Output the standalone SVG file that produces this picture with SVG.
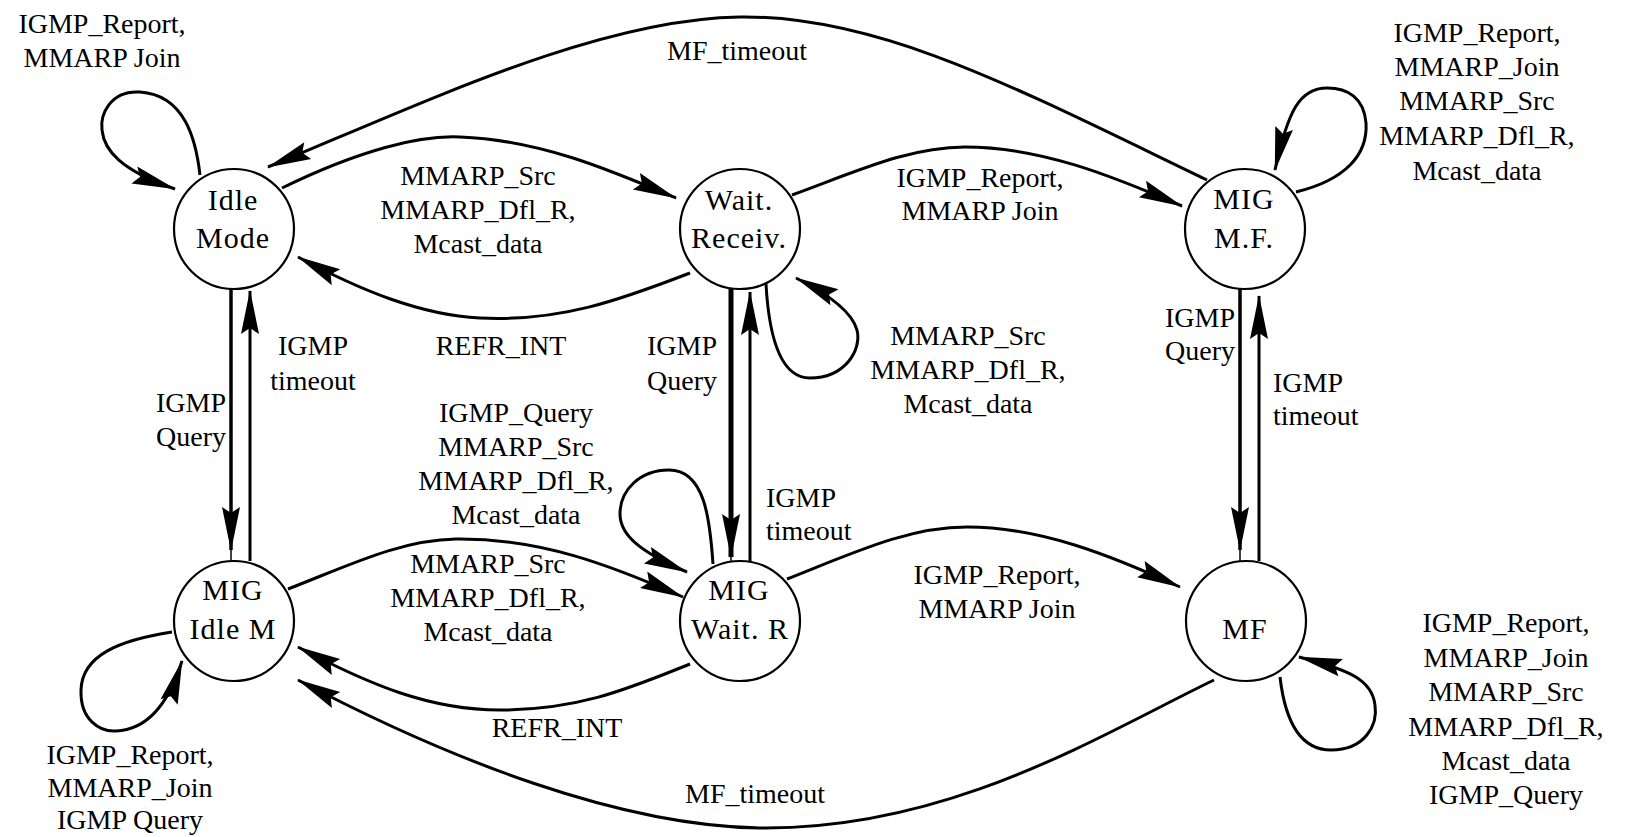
<svg xmlns="http://www.w3.org/2000/svg" width="1625" height="837" viewBox="0 0 1625 837">
  <style>
    .state { fill: #fff; stroke: #000; stroke-width: 2.2; }
    .name { font-family: "Liberation Serif", "Times New Roman", serif; font-size: 30px; letter-spacing: 1px; text-anchor: middle; fill: #000; }
    .edge { fill: none; stroke: #000; stroke-width: 3; }
    .stub { fill: none; stroke: #000; stroke-width: 1.5; }
    .lbl { font-family: "Liberation Serif", "Times New Roman", serif; font-size: 28px; text-anchor: middle; fill: #000; }
    .lbl.start { text-anchor: start; }
  </style>
  <defs>
    <!-- long, slightly notched dart used on every transition -->
    <marker id="arrow" markerUnits="userSpaceOnUse" viewBox="0 0 44 18" markerWidth="44" markerHeight="18" refX="43" refY="9" orient="auto" overflow="visible">
      <path d="M0,0 L44,9 L0,18 L6,9 Z" fill="#000"/>
    </marker>
  </defs>

  <rect width="1625" height="837" fill="#fff"/>

  <!-- transitions -->
  <g id="connectors">
    <!-- MF_timeout: MIG M.F. -> Idle Mode -->
    <path class="edge" d="M1207,180 C1020,90 880,15 740,17 C600,19 430,100 268,167" marker-end="url(#arrow)"/>
    <!-- Idle Mode -> Wait. Receiv. -->
    <path class="edge" d="M282,188 C360,150 420,135 460,137 C540,140 610,170 676,198" marker-end="url(#arrow)"/>
    <!-- REFR_INT: Wait. Receiv. -> Idle Mode -->
    <path class="edge" d="M690,273 C620,300 560,322 480,318 C420,315 360,290 298,257" marker-end="url(#arrow)"/>
    <!-- Wait. Receiv. -> MIG M.F. -->
    <path class="edge" d="M792,195 C860,170 910,147 965,147 C1040,147 1110,175 1182,206" marker-end="url(#arrow)"/>
    <!-- self loops -->
    <path class="edge" d="M200,175 C196,140 185,95 140,92 C110,90 100,115 102,130 C104,150 120,170 175,189" marker-end="url(#arrow)"/>
    <path class="edge" d="M766,284 C768,320 775,378 810,378 C845,378 862,350 857,330 C852,312 830,295 796,278" marker-end="url(#arrow)"/>
    <path class="edge" d="M1296,192 C1345,180 1368,155 1366,123 C1364,98 1348,88 1327,88 C1300,88 1288,110 1275,170" marker-end="url(#arrow)"/>
    <path class="edge" d="M172,632 C120,640 82,655 81,690 C80,720 100,732 116,731 C140,730 165,715 182,661" marker-end="url(#arrow)"/>
    <path class="edge" d="M713,564 C710,520 705,470 669,470 C640,470 620,490 620,514 C620,535 640,552 687,572" marker-end="url(#arrow)"/>
    <path class="edge" d="M1280,677 C1285,720 1300,750 1331,750 C1365,750 1378,725 1375,705 C1372,680 1350,670 1299,657" marker-end="url(#arrow)"/>
    <!-- MIG Idle M -> MIG Wait. R -->
    <path class="edge" d="M288,589 C350,565 400,540 456,539 C540,538 610,565 683,597" marker-end="url(#arrow)"/>
    <!-- REFR_INT: MIG Wait. R -> MIG Idle M -->
    <path class="edge" d="M690,664 C630,688 580,710 500,710 C430,710 370,685 298,647" marker-end="url(#arrow)"/>
    <!-- MIG Wait. R -> MF -->
    <path class="edge" d="M787,579 C860,550 910,527 967,527 C1040,527 1110,555 1180,587" marker-end="url(#arrow)"/>
    <!-- MF_timeout: MF -> MIG Idle M -->
    <path class="edge" d="M1214,680 C1100,735 950,830 760,828 C620,826 450,760 298,680" marker-end="url(#arrow)"/>

    <!-- IGMP Query (down) / IGMP timeout (up) pairs -->
    <path class="edge" style="stroke-width:3.5" d="M231,289 L231,550" marker-end="url(#arrow)"/>
    <path class="stub" d="M231,550 L231,561"/>
    <path class="edge" d="M250,561 L250,291" marker-end="url(#arrow)"/>

    <path class="edge" style="stroke-width:5" d="M731,289 L731,557" marker-end="url(#arrow)"/>
    <path class="stub" d="M731,557 L731,561"/>
    <path class="edge" d="M750,561 L750,292" marker-end="url(#arrow)"/>

    <path class="edge" style="stroke-width:3.5" d="M1240,289 L1240,550" marker-end="url(#arrow)"/>
    <path class="stub" d="M1240,550 L1240,561"/>
    <path class="edge" d="M1259,561 L1259,296" marker-end="url(#arrow)"/>
  </g>

  <!-- states -->
  <g id="idle-mode">
    <circle class="state" cx="234" cy="229" r="60"/>
    <text class="name" x="233" y="210">Idle</text>
    <text class="name" x="233" y="248">Mode</text>
  </g>
  <g id="wait-receiv">
    <circle class="state" cx="740" cy="229" r="60"/>
    <text class="name" x="739" y="210">Wait.</text>
    <text class="name" x="739" y="248">Receiv.</text>
  </g>
  <g id="mig-mf">
    <circle class="state" cx="1245" cy="229" r="60"/>
    <text class="name" x="1244" y="209">MIG</text>
    <text class="name" x="1244" y="248">M.F.</text>
  </g>
  <g id="mig-idle-m">
    <circle class="state" cx="234" cy="621" r="60"/>
    <text class="name" x="233" y="600">MIG</text>
    <text class="name" x="233" y="639">Idle M</text>
  </g>
  <g id="mig-wait-r">
    <circle class="state" cx="740" cy="621" r="60"/>
    <text class="name" x="739" y="600">MIG</text>
    <text class="name" x="740" y="639">Wait. R</text>
  </g>
  <g id="mf">
    <circle class="state" cx="1246" cy="621" r="60"/>
    <text class="name" x="1245" y="639">MF</text>
  </g>

  <!-- transition labels -->
  <g id="labels">
    <text class="lbl" x="102" y="33">IGMP_Report,</text>
    <text class="lbl" x="102" y="67">MMARP Join</text>

    <text class="lbl" x="737" y="60">MF_timeout</text>

    <text class="lbl" x="478" y="185">MMARP_Src</text>
    <text class="lbl" x="478" y="219">MMARP_Dfl_R,</text>
    <text class="lbl" x="478" y="253">Mcast_data</text>

    <text class="lbl" x="501" y="355">REFR_INT</text>

    <text class="lbl" x="980" y="187">IGMP_Report,</text>
    <text class="lbl" x="980" y="220">MMARP Join</text>

    <text class="lbl" x="1477" y="42">IGMP_Report,</text>
    <text class="lbl" x="1477" y="76">MMARP_Join</text>
    <text class="lbl" x="1477" y="110">MMARP_Src</text>
    <text class="lbl" x="1477" y="145">MMARP_Dfl_R,</text>
    <text class="lbl" x="1477" y="180">Mcast_data</text>

    <text class="lbl" x="313" y="355">IGMP</text>
    <text class="lbl" x="313" y="390">timeout</text>
    <text class="lbl" x="191" y="412">IGMP</text>
    <text class="lbl" x="191" y="446">Query</text>

    <text class="lbl" x="682" y="355">IGMP</text>
    <text class="lbl" x="682" y="390">Query</text>
    <text class="lbl start" x="766" y="507">IGMP</text>
    <text class="lbl start" x="766" y="540">timeout</text>

    <text class="lbl" x="968" y="345">MMARP_Src</text>
    <text class="lbl" x="968" y="379">MMARP_Dfl_R,</text>
    <text class="lbl" x="968" y="413">Mcast_data</text>

    <text class="lbl" x="1200" y="327">IGMP</text>
    <text class="lbl" x="1200" y="360">Query</text>
    <text class="lbl start" x="1273" y="392">IGMP</text>
    <text class="lbl start" x="1273" y="425">timeout</text>

    <text class="lbl" x="516" y="422">IGMP_Query</text>
    <text class="lbl" x="516" y="456">MMARP_Src</text>
    <text class="lbl" x="516" y="490">MMARP_Dfl_R,</text>
    <text class="lbl" x="516" y="524">Mcast_data</text>

    <text class="lbl" x="488" y="573">MMARP_Src</text>
    <text class="lbl" x="488" y="607">MMARP_Dfl_R,</text>
    <text class="lbl" x="488" y="641">Mcast_data</text>

    <text class="lbl" x="997" y="584">IGMP_Report,</text>
    <text class="lbl" x="997" y="618">MMARP Join</text>

    <text class="lbl" x="557" y="737">REFR_INT</text>
    <text class="lbl" x="755" y="803">MF_timeout</text>

    <text class="lbl" x="130" y="764">IGMP_Report,</text>
    <text class="lbl" x="130" y="797">MMARP_Join</text>
    <text class="lbl" x="130" y="829">IGMP Query</text>

    <text class="lbl" x="1506" y="632">IGMP_Report,</text>
    <text class="lbl" x="1506" y="667">MMARP_Join</text>
    <text class="lbl" x="1506" y="701">MMARP_Src</text>
    <text class="lbl" x="1506" y="736">MMARP_Dfl_R,</text>
    <text class="lbl" x="1506" y="770">Mcast_data</text>
    <text class="lbl" x="1506" y="804">IGMP_Query</text>
  </g>
</svg>
